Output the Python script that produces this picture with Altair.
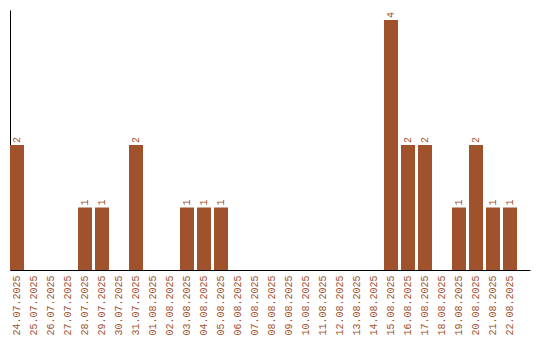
import altair as alt
import pandas as pd

dates = ["24.07.2025", "25.07.2025", "26.07.2025", "27.07.2025", "28.07.2025",
         "29.07.2025", "30.07.2025", "31.07.2025", "01.08.2025", "02.08.2025",
         "03.08.2025", "04.08.2025", "05.08.2025", "06.08.2025", "07.08.2025",
         "08.08.2025", "09.08.2025", "10.08.2025", "11.08.2025", "12.08.2025",
         "13.08.2025", "14.08.2025", "15.08.2025", "16.08.2025", "17.08.2025",
         "18.08.2025", "19.08.2025", "20.08.2025", "21.08.2025", "22.08.2025"]
counts = [2, 0, 0, 0, 1, 1, 0, 2, 0, 0,
          1, 1, 1, 0, 0, 0, 0, 0, 0, 0,
          0, 0, 4, 2, 2, 0, 1, 2, 1, 1]

df = pd.DataFrame({"date": dates, "count": counts})
color = "#A0522D"
font = "Liberation Mono"

x = alt.X("date:N", sort=None,
          scale=alt.Scale(paddingInner=0.176, paddingOuter=0.382, align=0),
          axis=alt.Axis(title=None, labelAngle=-90, labelAlign="right",
                        labelBaseline="middle", labelPadding=5, ticks=False,
                        labelColor=color, labelFont=font, labelFontSize=10,
                        domainColor="black", domainWidth=1, grid=False,
                        labelOverlap=False))
y = alt.Y("count:Q", scale=alt.Scale(domain=[0, 4.16], nice=False, zero=True),
          axis=alt.Axis(title=None, labels=False, ticks=False, grid=False,
                        domainColor="black", domainWidth=1))

bars = alt.Chart(df).mark_bar(color=color).encode(x=x, y=y)
labels = alt.Chart(df).transform_filter("datum.count > 0").mark_text(
    angle=270, align="left", baseline="middle", dx=2,
    font=font, fontSize=10, color=color
).encode(x=x, y=y, text="count:Q")

chart = (bars + labels).properties(
    width=520, height=260,
    autosize=alt.AutoSizeParams(type="none"),
    padding={"left": 10, "top": 10, "right": 10, "bottom": 70},
).configure(background="white").configure_view(stroke=None, strokeWidth=0)

chart.save("out.html", embed_options={"renderer": "svg", "actions": False})
